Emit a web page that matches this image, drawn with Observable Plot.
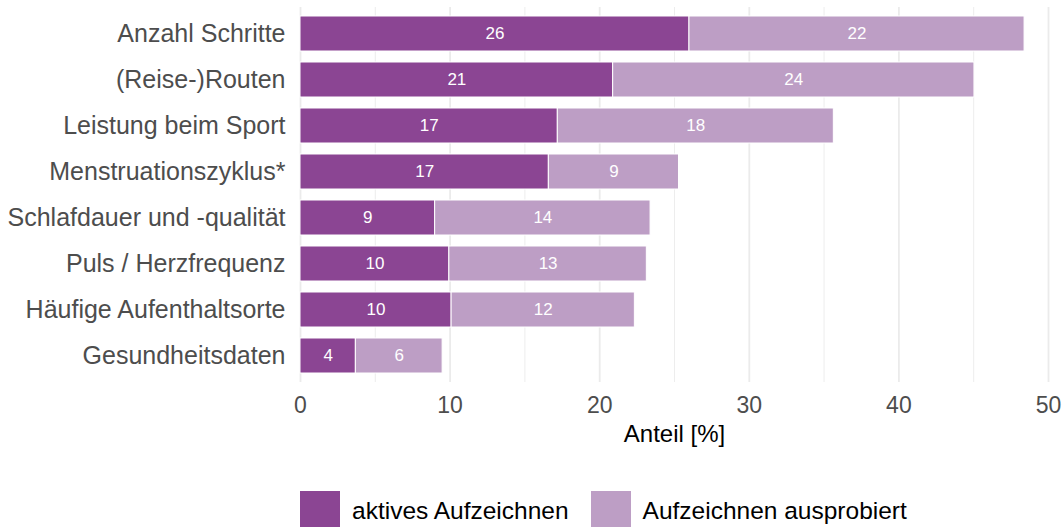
<!DOCTYPE html>
<html>
<head>
<meta charset="utf-8">
<script src="https://cdn.jsdelivr.net/npm/d3@7"></script>
<script src="https://cdn.jsdelivr.net/npm/@observablehq/plot@0.6"></script>
<style>
  html, body { margin: 0; padding: 0; background: #fff; }
  body { width: 1063px; height: 527px; overflow: hidden; font-family: "Liberation Sans", Arial, Helvetica, sans-serif; }
  #chart svg { display: block; }
  g[aria-label="x-axis label"] text { font-size: 24px; fill: #000; }
  g[aria-label="x-axis tick label"] text { font-size: 23px; fill: #4D4D4D; }
  g[aria-label="y-axis tick label"] text { font-size: 25px; fill: #4D4D4D; }
  #legend { display: flex; align-items: center; margin-top: 31px; padding-left: 300px; font-size: 24.5px; color: #000; }
  #legend .key { width: 40px; height: 40px; flex: none; }
  #legend .lab { margin-left: 12px; margin-right: 22px; white-space: nowrap; }
</style>
</head>
<body>
<div id="chart"></div>
<div id="legend"></div>
<script>
const categories = [
  "Anzahl Schritte",
  "(Reise-)Routen",
  "Leistung beim Sport",
  "Menstruationszyklus*",
  "Schlafdauer und -qualität",
  "Puls / Herzfrequenz",
  "Häufige Aufenthaltsorte",
  "Gesundheitsdaten"
];
const seriesNames = ["aktives Aufzeichnen", "Aufzeichnen ausprobiert"];
const aktiv = [26.0, 20.9, 17.2, 16.6, 9.0, 9.95, 10.1, 3.7];
const ausprobiert = [22.4, 24.15, 18.45, 8.7, 14.4, 13.2, 12.25, 5.8];
const seriesColors = ["#8B4593", "#BD9EC5"];
const majorTicks = [0, 10, 20, 30, 40, 50];
const minorTicks = [5, 15, 25, 35, 45];

const rows = [];
categories.forEach((c, i) => {
  rows.push({cat: c, series: seriesNames[0], value: aktiv[i]});
  rows.push({cat: c, series: seriesNames[1], value: ausprobiert[i]});
});

const chart = Plot.plot({
  width: 1063,
  height: 460,
  marginTop: 7,
  marginBottom: 78,
  marginLeft: 300,
  marginRight: 15,
  style: {fontFamily: '"Liberation Sans", Arial, Helvetica, sans-serif', background: "#fff"},
  x: {domain: [0, 50]},
  y: {domain: categories, paddingInner: 0.25, paddingOuter: 0.125},
  color: {domain: seriesNames, range: seriesColors},
  marks: [
    Plot.ruleX(minorTicks, {stroke: "#EBEBEB", strokeWidth: 0.9}),
    Plot.ruleX(majorTicks, {stroke: "#EBEBEB", strokeWidth: 1.8}),
    Plot.barX(rows, Plot.stackX({x: "value", y: "cat", fill: "series", z: "series", stroke: "white", strokeWidth: 1})),
    Plot.text(rows, Plot.stackX({x: "value", y: "cat", z: "series", text: d => String(Math.round(d.value)), fill: "white", fontSize: 17})),
    Plot.axisY({tickSize: 0, tickPadding: 15, label: null}),
    Plot.axisX({ticks: majorTicks, tickSize: 0, tickPadding: 14, label: "Anteil [%]", labelAnchor: "center", labelArrow: "none", labelOffset: 59})
  ]
});
document.getElementById("chart").appendChild(chart);

const legend = document.getElementById("legend");
seriesNames.forEach((s, i) => {
  const k = document.createElement("div");
  k.className = "key";
  k.style.background = seriesColors[i];
  const t = document.createElement("div");
  t.className = "lab";
  t.textContent = s;
  legend.appendChild(k);
  legend.appendChild(t);
});
</script>
</body>
</html>
